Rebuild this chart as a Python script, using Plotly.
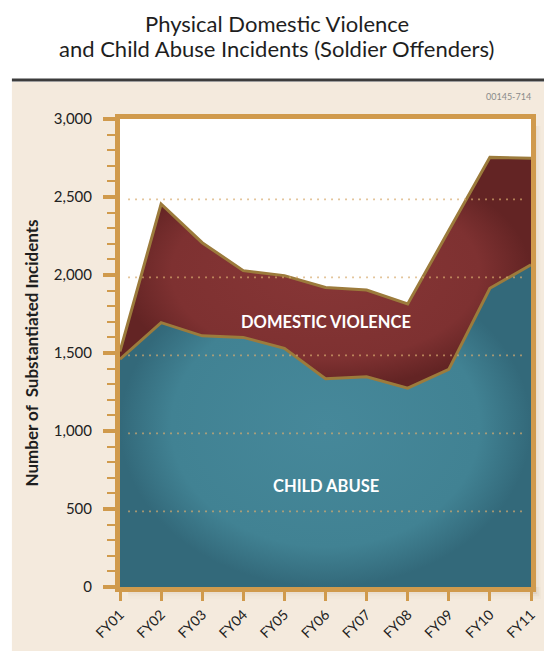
import plotly.graph_objects as go

# data
years = ["FY01", "FY02", "FY03", "FY04", "FY05", "FY06", "FY07", "FY08", "FY09", "FY10", "FY11"]
child_abuse = [1460, 1695, 1610, 1600, 1530, 1335, 1348, 1275, 1395, 1915, 2065]
domestic_violence = [50, 760, 597, 428, 466, 585, 556, 539, 890, 839, 683]
grid_values = [500, 1000, 1500, 2000, 2500]

gold = "#d09a4c"
outline = "#9c7b3c"
x = list(range(len(years)))

fig = go.Figure()

fig.add_trace(go.Scatter(
    x=x, y=child_abuse, stackgroup="one", mode="lines",
    name="Child Abuse",
    line=dict(color=outline, width=3),
    fillgradient=dict(type="radial",
                      colorscale=[[0, "#46889a"], [0.75, "#418293"], [1, "#33697a"]]),
))
fig.add_trace(go.Scatter(
    x=x, y=domestic_violence, stackgroup="one", mode="lines",
    name="Domestic Violence",
    line=dict(color=outline, width=3),
    fillgradient=dict(type="radial",
                      colorscale=[[0, "#873636"], [0.75, "#7e3131"], [1, "#632424"]]),
))

shapes = []
# white band above the beige panel and on its left
shapes.append(dict(type="rect", xref="paper", yref="paper", x0=-0.4, x1=1.2, y0=1.079, y1=1.3,
                   fillcolor="white", line=dict(width=0), layer="below"))
shapes.append(dict(type="rect", xref="paper", yref="paper", x0=-0.4, x1=-0.263, y0=-0.2, y1=1.1,
                   fillcolor="white", line=dict(width=0), layer="below"))
shapes.append(dict(type="line", xref="paper", yref="paper", x0=-0.263, x1=1.2, y0=1.0833, y1=1.0833,
                   line=dict(color="#3c3c3c", width=3)))
# soft shadow right of / below the frame
for i, a in enumerate([0.06, 0.045, 0.03, 0.02, 0.01]):
    d = (i + 1) * 0.005
    shapes.append(dict(type="rect", xref="paper", yref="paper", x0=1.0, x1=1.0 + d, y0=-d, y1=0.985,
                       fillcolor="rgba(90,60,20,%s)" % a, line=dict(width=0), layer="below"))
    shapes.append(dict(type="rect", xref="paper", yref="paper", x0=0.02, x1=1.0 + d, y0=-d, y1=0.0,
                       fillcolor="rgba(90,60,20,%s)" % a, line=dict(width=0), layer="below"))
# dotted gridlines drawn over the areas
for g in grid_values:
    shapes.append(dict(type="line", xref="paper", yref="y", x0=0.02, x1=0.985, y0=g - 15, y1=g - 15,
                       line=dict(color="rgba(216,172,112,0.85)", width=1.6, dash="1.6px,5.4px"),
                       layer="above"))

fig.update_layout(
    width=544, height=643,
    margin=dict(l=112, r=21, t=111, b=64, autoexpand=False),
    paper_bgcolor="#f4eadd",
    plot_bgcolor="white",
    showlegend=False,
    shapes=shapes,
    font=dict(family="Lato, 'Open Sans', sans-serif", color="#222222"),
    annotations=[
        # title, one annotation per line
        dict(text="Physical Domestic Violence",
             x=0.381, y=1.2035, xref="paper", yref="paper", showarrow=False,
             xanchor="center", yanchor="middle",
             font=dict(size=22, color="#1e1e1e")),
        dict(text="and Child Abuse Incidents (Soldier Offenders)",
             x=0.381, y=1.1517, xref="paper", yref="paper", showarrow=False,
             xanchor="center", yanchor="middle",
             font=dict(size=22, color="#1e1e1e")),
        dict(text="DOMESTIC VIOLENCE", x=5, y=1700, xref="x", yref="y", showarrow=False,
             font=dict(size=16.5, color="white", family="Lato, sans-serif", weight="bold")),
        dict(text="CHILD ABUSE", x=5, y=647, xref="x", yref="y", showarrow=False,
             font=dict(size=16.5, color="white", family="Lato, sans-serif", weight="bold")),
        dict(text="00145-714", x=1.005, y=1.049, xref="paper", yref="paper", showarrow=False,
             xanchor="right", yanchor="middle", font=dict(size=9, color="#8a8a8a")),
    ],
)

fig.update_xaxes(
    range=[0, 10], tickvals=x, ticktext=years, tickangle=-45, automargin=False,
    showgrid=False, zeroline=False,
    showline=True, linecolor=gold, linewidth=5, mirror=True,
    ticks="outside", ticklen=9, tickwidth=3, tickcolor=gold,
    tickfont=dict(size=14, color="#222222"),
)
fig.update_yaxes(
    range=[0, 3000], dtick=500, tickformat=",", automargin=False,
    showgrid=False, zeroline=False,
    showline=True, linecolor=gold, linewidth=5, mirror=True,
    ticks="outside", ticklen=12, tickwidth=4, tickcolor=gold,
    minor=dict(dtick=100, ticks="outside", ticklen=8, tickwidth=2, tickcolor=gold, showgrid=False),
    ticklabelstandoff=8,
    tickfont=dict(size=15, color="#222222"),
    title=dict(text="<b>Number of  Substantiated Incidents</b>", font=dict(size=17, color="#1e1e1e"),
               standoff=12),
)

fig.write_html("out.html")
